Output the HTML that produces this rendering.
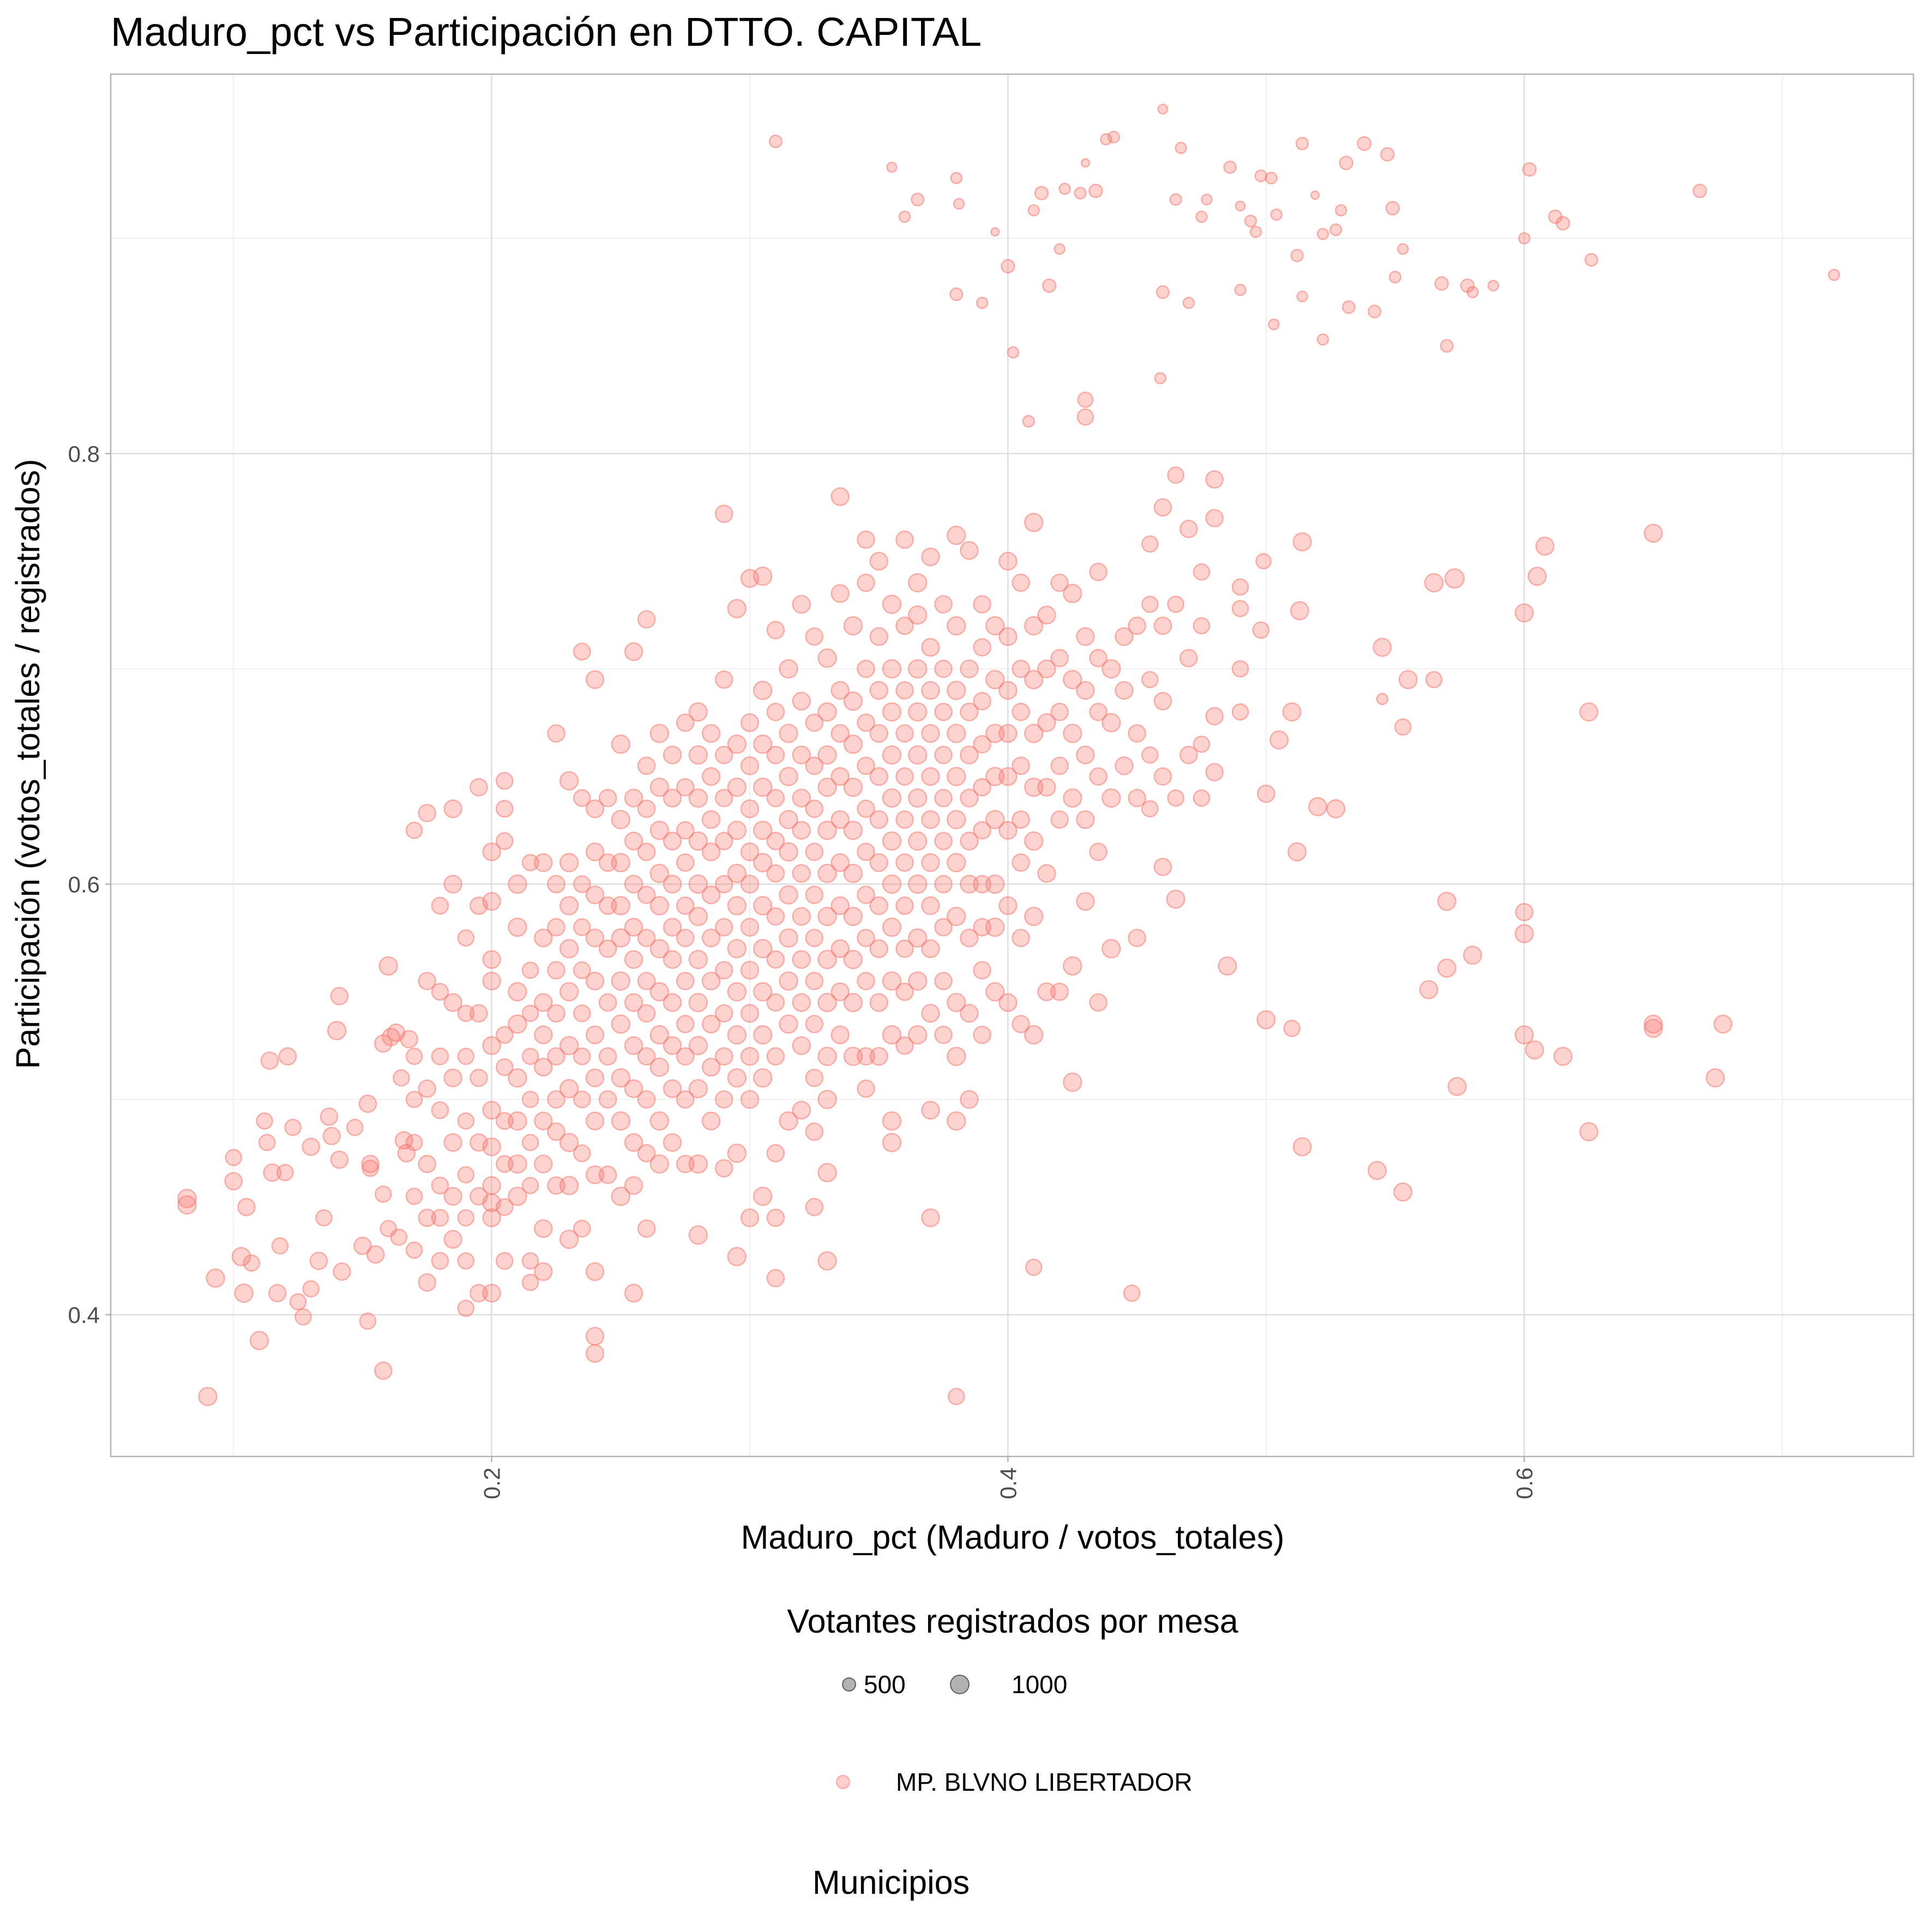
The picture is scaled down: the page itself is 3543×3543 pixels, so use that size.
<!DOCTYPE html>
<html><head><meta charset="utf-8"><style>
html,body{margin:0;padding:0;background:#fff;}
svg{display:block;font-family:"Liberation Sans",sans-serif;}
</style></head><body>
<svg id="chart" width="3543" height="3543" viewBox="0 0 3543 3543" xmlns="http://www.w3.org/2000/svg">
<rect width="3543" height="3543" fill="#fff"/>
<text x="203" y="84" font-size="74" fill="#000">Maduro_pct vs Participación en DTTO. CAPITAL</text>
<g id="grid"></g>
<g id="points"></g>
<rect x="203" y="136" width="3306" height="2535" fill="none" stroke="#b3b3b3" stroke-width="2.5"/>
<g id="axes"></g>
<text x="1857" y="2840" font-size="61" text-anchor="middle">Maduro_pct (Maduro / votos_totales)</text>
<text transform="translate(72,1401) rotate(-90)" font-size="61" text-anchor="middle">Participación (votos_totales / registrados)</text>
<text x="1857" y="2994" font-size="61" text-anchor="middle">Votantes registrados por mesa</text>
<circle cx="1557" cy="3089" r="12" fill="#000" fill-opacity="0.3" stroke="#000" stroke-opacity="0.55" stroke-width="2"/>
<text x="1584" y="3105" font-size="46">500</text>
<circle cx="1760" cy="3089" r="17" fill="#000" fill-opacity="0.3" stroke="#000" stroke-opacity="0.55" stroke-width="2"/>
<text x="1855" y="3105" font-size="46">1000</text>
<circle cx="1546" cy="3268" r="12" fill="#F8766D" fill-opacity="0.35" stroke="#F8766D" stroke-opacity="0.55" stroke-width="2"/>
<text x="1643" y="3284" font-size="46">MP. BLVNO LIBERTADOR</text>
<text x="1634" y="3473" font-size="61" text-anchor="middle">Municipios</text>
</svg>
<script>
const xTicks = [0.2, 0.4, 0.6];
const xMinor = [0.1, 0.3, 0.5, 0.7];
const yTicks = [0.4, 0.6, 0.8];
const yMinor = [0.5, 0.7, 0.9];
const xTickLabels = ["0.2", "0.4", "0.6"];
const yTickLabels = ["0.4", "0.6", "0.8"];

const pointsX = [0.31,0.355,0.36,0.365,0.38,0.381,0.39,0.395,0.4,0.402,0.41,0.413,0.416,0.42,0.422,0.428,0.43,0.434,0.438,0.441,0.46,0.46,0.465,0.467,0.47,0.475,0.477,0.486,0.49,0.49,0.494,0.496,0.498,0.502,0.504,0.512,0.514,0.514,0.519,0.522,0.527,0.529,0.531,0.532,0.538,0.542,0.547,0.549,0.55,0.553,0.568,0.57,0.578,0.58,0.588,0.6,0.602,0.612,0.615,0.626,0.668,0.72,0.38,0.43,0.43,0.408,0.459,0.503,0.522,
0.565,0.573,0.6,0.605,0.608,0.65,0.625,0.545,0.555,0.565,0.553,0.545,0.52,0.527,0.512,0.51,0.505,0.498,0.513,0.514,0.499,0.5,0.57,0.58,0.563,0.57,0.6,0.6,0.6,0.604,0.615,0.65,0.65,0.677,0.674,0.625,0.574,0.5,0.51,0.514,0.543,0.553,0.448,0.41,0.38,0.485,0.465,
0.082,0.082,0.093,0.09,0.1,0.1,0.105,0.103,0.104,0.107,0.11,0.112,0.113,0.114,0.115,0.117,0.118,0.12,0.121,0.123,0.125,0.127,0.13,0.13,0.133,0.135,0.137,0.138,0.14,0.141,0.141,0.142,0.147,0.15,0.152,0.153,0.153,0.152,0.155,0.158,0.158,0.158,0.16,0.16,0.161,0.163,0.164,0.165,0.166,0.167,0.168];
const pointsY = [0.945,0.933,0.91,0.918,0.928,0.916,0.87,0.903,0.887,0.847,0.913,0.921,0.878,0.895,0.923,0.921,0.935,0.922,0.946,0.947,0.96,0.875,0.918,0.942,0.87,0.91,0.918,0.933,0.876,0.915,0.908,0.903,0.929,0.928,0.911,0.892,0.944,0.873,0.92,0.902,0.904,0.913,0.935,0.868,0.944,0.866,0.939,0.914,0.882,0.895,0.879,0.85,0.878,0.875,0.878,0.9,0.932,0.91,0.907,0.89,0.922,0.883,0.874,0.825,0.817,0.815,0.835,0.86,0.853,
0.74,0.742,0.726,0.743,0.757,0.763,0.68,0.71,0.695,0.695,0.673,0.686,0.636,0.635,0.615,0.68,0.667,0.718,0.727,0.759,0.75,0.642,0.592,0.567,0.551,0.561,0.587,0.577,0.53,0.523,0.52,0.535,0.533,0.535,0.51,0.485,0.506,0.537,0.533,0.478,0.467,0.457,0.41,0.422,0.362,0.562,0.593,
0.454,0.451,0.417,0.362,0.473,0.462,0.45,0.427,0.41,0.424,0.388,0.49,0.48,0.518,0.466,0.41,0.432,0.466,0.52,0.487,0.406,0.399,0.478,0.412,0.425,0.445,0.492,0.483,0.532,0.472,0.548,0.42,0.487,0.432,0.498,0.47,0.468,0.397,0.428,0.526,0.456,0.374,0.562,0.44,0.529,0.531,0.436,0.51,0.481,0.475,0.528];
const pointsReg = [420,260,330,420,330,300,330,180,480,330,330,480,480,300,330,360,180,480,330,360,250,420,360,330,330,330,300,400,330,250,360,330,360,360,330,400,400,300,180,330,360,330,480,420,500,420,480,480,360,300,480,420,480,330,300,330,480,480,480,420,480,330,420,620,700,360,330,300,330,
900,1000,880,880,880,880,880,880,880,700,700,330,880,880,880,880,880,700,880,880,620,800,880,880,880,880,800,880,880,880,880,880,880,880,880,880,880,880,700,880,880,880,700,700,700,880,880,
900,900,900,900,700,800,800,900,900,700,900,700,700,800,800,800,700,700,800,700,700,700,800,700,800,700,800,800,900,800,800,800,700,800,800,800,700,700,800,800,700,800,900,700,800,800,700,700,800,800,800];

const colX = [0.17,0.175,0.18,0.185,0.19,0.195,0.20,0.205,0.21,0.215,0.22,0.225,0.23,0.235,0.24,0.245,0.25,0.255,0.26,0.265,0.27,0.275,0.28,0.285,0.29,0.295,0.30,0.305,0.31,0.315,0.32,0.325,0.33,0.335,0.34,0.345,0.35,0.355,0.36,0.365,0.37,0.375,0.38,0.385,0.39,0.395,0.40,0.405,0.41,0.415,0.42,0.425,0.43,0.435,0.44,0.445,0.45,0.455,0.46,0.465,0.47,0.475,0.48,0.49];
const colY = [
[0.625,0.52,0.5,0.48,0.455,0.43],[0.633,0.555,0.505,0.47,0.445,0.415],[0.59,0.55,0.52,0.495,0.46,0.445,0.425],[0.635,0.6,0.545,0.51,0.48,0.455,0.435],[0.575,0.54,0.52,0.49,0.465,0.445,0.425,0.403],[0.645,0.59,0.54,0.51,0.48,0.455,0.41],
[0.615,0.592,0.565,0.555,0.525,0.495,0.478,0.46,0.452,0.445,0.41],[0.648,0.635,0.62,0.53,0.515,0.49,0.47,0.45,0.425],[0.6,0.58,0.55,0.535,0.51,0.49,0.47,0.455],[0.61,0.56,0.54,0.52,0.5,0.48,0.46,0.425,0.415],[0.61,0.575,0.545,0.53,0.515,0.49,0.47,0.44,0.42],[0.67,0.6,0.58,0.56,0.54,0.52,0.5,0.485,0.46],[0.648,0.61,0.59,0.57,0.55,0.525,0.505,0.48,0.46,0.435],[0.708,0.64,0.6,0.58,0.56,0.54,0.52,0.5,0.475,0.44],[0.695,0.635,0.615,0.595,0.575,0.555,0.53,0.51,0.49,0.465,0.42,0.39,0.382],[0.64,0.61,0.59,0.57,0.545,0.52,0.5,0.465],[0.665,0.63,0.61,0.59,0.575,0.555,0.535,0.51,0.49,0.455],[0.708,0.64,0.62,0.6,0.58,0.565,0.545,0.525,0.505,0.48,0.46,0.41],[0.723,0.655,0.635,0.615,0.595,0.575,0.555,0.54,0.52,0.5,0.475,0.44],[0.67,0.645,0.625,0.605,0.59,0.57,0.55,0.53,0.515,0.49,0.47],[0.66,0.64,0.62,0.6,0.58,0.565,0.545,0.525,0.505,0.48],[0.675,0.645,0.625,0.61,0.59,0.575,0.555,0.535,0.52,0.5,0.47],[0.68,0.66,0.64,0.62,0.6,0.585,0.565,0.545,0.525,0.505,0.47,0.437],[0.67,0.65,0.63,0.615,0.595,0.575,0.555,0.535,0.515,0.49],[0.772,0.695,0.66,0.64,0.62,0.6,0.58,0.56,0.54,0.52,0.5,0.468],[0.728,0.665,0.645,0.625,0.605,0.59,0.57,0.55,0.53,0.51,0.475,0.427],[0.742,0.675,0.655,0.635,0.615,0.6,0.58,0.56,0.54,0.52,0.5,0.445],[0.743,0.69,0.665,0.645,0.625,0.61,0.59,0.57,0.55,0.53,0.51,0.455],[0.718,0.68,0.66,0.64,0.62,0.605,0.585,0.565,0.545,0.52,0.475,0.445,0.417],[0.7,0.67,0.65,0.63,0.615,0.595,0.575,0.555,0.535,0.49],[0.73,0.685,0.66,0.64,0.625,0.605,0.585,0.565,0.545,0.525,0.495],[0.715,0.675,0.655,0.635,0.615,0.595,0.575,0.555,0.535,0.51,0.485,0.45],[0.705,0.68,0.66,0.645,0.625,0.605,0.585,0.565,0.545,0.52,0.5,0.466,0.425],[0.78,0.735,0.69,0.67,0.65,0.63,0.61,0.59,0.57,0.55,0.53],[0.72,0.685,0.665,0.645,0.625,0.605,0.585,0.565,0.545,0.52],[0.76,0.74,0.7,0.675,0.655,0.635,0.615,0.595,0.575,0.555,0.52,0.505],[0.75,0.715,0.69,0.67,0.65,0.63,0.61,0.59,0.57,0.545,0.52],[0.73,0.7,0.68,0.66,0.64,0.62,0.6,0.58,0.555,0.53,0.49,0.48],[0.76,0.72,0.69,0.67,0.65,0.63,0.61,0.59,0.57,0.55,0.525],[0.74,0.725,0.7,0.68,0.66,0.64,0.62,0.6,0.575,0.555,0.53],[0.752,0.71,0.69,0.67,0.65,0.63,0.61,0.59,0.57,0.54,0.495,0.445],[0.73,0.7,0.68,0.66,0.64,0.62,0.6,0.58,0.555,0.53],[0.762,0.72,0.69,0.67,0.65,0.63,0.61,0.585,0.545,0.52,0.49],[0.755,0.7,0.68,0.66,0.64,0.62,0.6,0.575,0.54,0.5],[0.73,0.71,0.685,0.665,0.645,0.625,0.6,0.58,0.56,0.53],[0.72,0.695,0.67,0.65,0.63,0.6,0.58,0.55],[0.75,0.715,0.69,0.67,0.65,0.625,0.59,0.545],[0.74,0.7,0.68,0.655,0.63,0.61,0.575,0.535],[0.768,0.72,0.695,0.67,0.645,0.62,0.585,0.53],[0.725,0.7,0.675,0.645,0.605,0.55],[0.74,0.705,0.68,0.655,0.63,0.55],[0.735,0.695,0.67,0.64,0.562,0.508],[0.715,0.69,0.66,0.63,0.592],[0.745,0.705,0.68,0.65,0.615,0.545],[0.7,0.675,0.64,0.57],[0.715,0.69,0.655],[0.72,0.67,0.64,0.575],[0.758,0.73,0.695,0.66,0.635],[0.775,0.72,0.685,0.65,0.608],[0.79,0.73,0.64],[0.765,0.705,0.66],[0.745,0.72,0.665,0.64],[0.788,0.77,0.678,0.652],[0.738,0.728,0.7,0.68]];
const colReg = [700,800,750,850,700,800,850,750,900,700,850,800,900,750,850,800,900,850,800,900,850,800,900,850,800,900,850,900,800,900,850,800,900,850,900,800,850,900,800,900,850,800,900,850,800,900,850,800,900,850,800,900,850,800,900,850,800,700,800,700,800,700,800,700];

const X0 = 0.2, PX0 = 901.6, PXU = 4734;
const Y0 = 0.4, PY0 = 2411, PYU = 3948;
function sx(v){ return PX0 + (v - X0) * PXU; }
function sy(v){ return PY0 - (v - Y0) * PYU; }
function sr(n){ return 0.55 * Math.sqrt(n); }
const NS = "http://www.w3.org/2000/svg";
const L = 203, R = 3509, T = 136, B = 2671;
const grid = document.getElementById('grid');
const axes = document.getElementById('axes');
function line(g, x1, y1, x2, y2, stroke, w, name){
  const l = document.createElementNS(NS, 'line');
  l.setAttribute('x1', x1); l.setAttribute('y1', y1); l.setAttribute('x2', x2); l.setAttribute('y2', y2);
  l.setAttribute('stroke', stroke); l.setAttribute('stroke-width', w);
  
  
  g.appendChild(l);
}
xMinor.forEach(v => line(grid, sx(v), T, sx(v), B, '#ececec', 1.5, 'x-minor-gridline'));
yMinor.forEach(v => line(grid, L, sy(v), R, sy(v), '#ececec', 1.5, 'y-minor-gridline'));
xTicks.forEach(v => line(grid, sx(v), T, sx(v), B, '#dedede', 2.5, 'x-major-gridline'));
yTicks.forEach(v => line(grid, L, sy(v), R, sy(v), '#dedede', 2.5, 'y-major-gridline'));
xTicks.forEach((v, i) => {
  line(axes, sx(v), B, sx(v), B + 10, '#b3b3b3', 2.5, 'x-tick');
  const t = document.createElementNS(NS, 'text');
  t.setAttribute('transform', 'translate(' + (sx(v) + 15) + ',' + (B + 20) + ') rotate(-90)');
  t.setAttribute('text-anchor', 'end'); t.setAttribute('font-size', '42'); t.setAttribute('fill', '#4d4d4d');
  t.textContent = xTickLabels[i];
  
  
  axes.appendChild(t);
});
yTicks.forEach((v, i) => {
  line(axes, L - 10, sy(v), L, sy(v), '#b3b3b3', 2.5, 'y-tick');
  const t = document.createElementNS(NS, 'text');
  t.setAttribute('x', L - 20); t.setAttribute('y', sy(v) + 15);
  t.setAttribute('text-anchor', 'end'); t.setAttribute('font-size', '42'); t.setAttribute('fill', '#4d4d4d');
  t.textContent = yTickLabels[i];
  
  
  axes.appendChild(t);
});
const pg = document.getElementById('points');
function dot(x, y, n){
  const c = document.createElementNS(NS, 'circle');
  c.setAttribute('cx', sx(x).toFixed(1)); c.setAttribute('cy', sy(y).toFixed(1)); c.setAttribute('r', sr(n).toFixed(1));
  c.setAttribute('fill', '#F8766D'); c.setAttribute('fill-opacity', '0.33');
  c.setAttribute('stroke', '#F8766D'); c.setAttribute('stroke-opacity', '0.55'); c.setAttribute('stroke-width', '2.5');
  
  
  pg.appendChild(c);
}
pointsX.forEach((x, i) => dot(x, pointsY[i], pointsReg[i]));
colX.forEach((x, i) => colY[i].forEach(y => dot(x, y, colReg[i])));
</script>
</body></html>
